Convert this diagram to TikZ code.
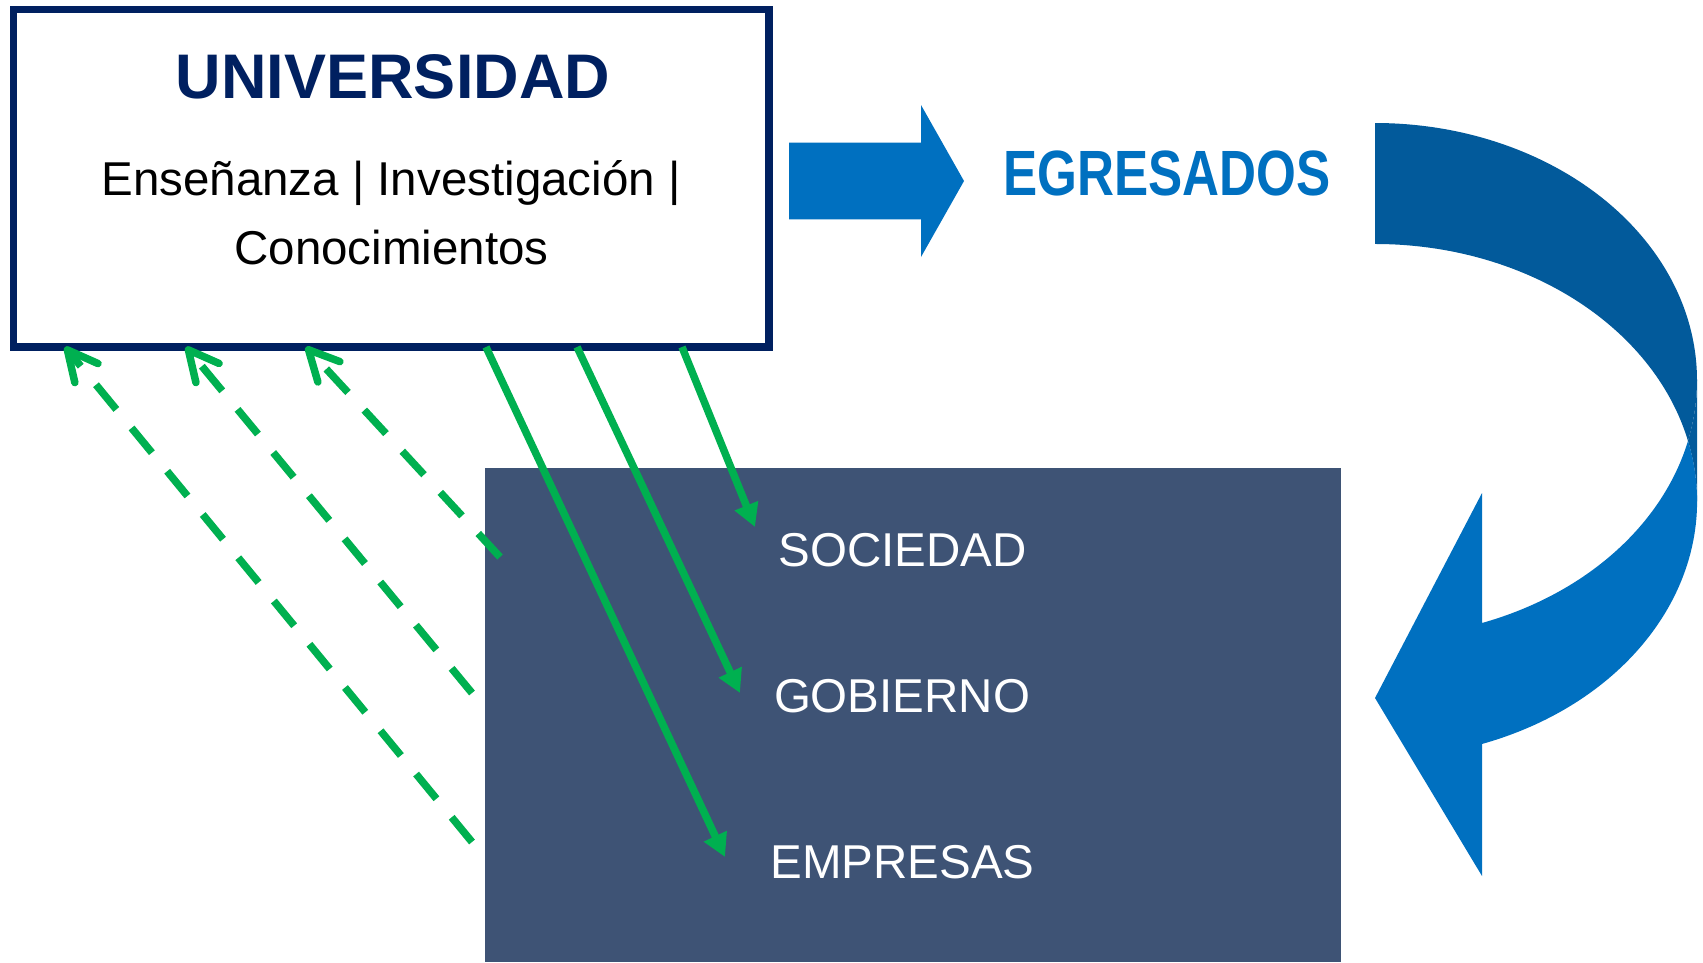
\documentclass[tikz,border=0pt]{standalone}
\usepackage{fontspec}
\setmainfont{Liberation Sans}
\newfontfamily\narrowfont[FakeStretch=0.80]{Liberation Sans}
\usetikzlibrary{positioning}
\usetikzlibrary{arrows.meta}
\usetikzlibrary{math}
\definecolor{univblue}{RGB}{0,32,96}
\definecolor{flechagreen}{RGB}{0,176,80}
\definecolor{egrblue}{RGB}{0,112,192}
\definecolor{backblue}{RGB}{2,90,155}
\definecolor{sectgray}{RGB}{62,83,117}

\begin{document}
\begin{tikzpicture}[x=1pt,y=-1pt,
    salida/.style={flechagreen, line width=7.5pt, -{Triangle[length=23pt,width=24pt]}},
    retorno/.style={flechagreen, line width=7.5pt, dash pattern=on 32pt off 24pt,
      -{Straight Barb[length=30pt,width=30pt,round]}},
    sector/.style={text=white, font=\fontsize{47.5}{57}\selectfont, inner sep=0pt, anchor=base}]
      \tikzmath{
        \arx = 322;
        \ary = 257.3;
        \cut = 13.6;
        \low = 70.6;
      }
      \path[use as bounding box, fill=white] (0,0) rectangle (1703,962);

      % universidad
      \node[draw=univblue, line width=7.5pt, minimum width=755.5pt, minimum height=337.5pt,
        inner sep=0pt, outer sep=0pt] (univ) at (391.25,178.25) {};
      \node[anchor=base, text=univblue, font=\fontsize{63}{76}\selectfont\bfseries, inner sep=0pt]
        (titulo) at (393,98) {UNIVERSIDAD};
      \node[anchor=base, font=\fontsize{47.5}{57}\selectfont, inner sep=0pt]
        (funciones) at (391,195) {Enseñanza | Investigación |};
      \node[anchor=base, font=\fontsize{47.5}{57}\selectfont, inner sep=0pt]
        (conoc) at (391.5,264) {Conocimientos};

      % sectores
      \node[fill=sectgray, minimum width=856pt, minimum height=494pt, inner sep=0pt, outer sep=0pt]
        (sect) at (913,715) {};
      \node[sector] (soc) at (902.5,566) {SOCIEDAD};
      \node[sector] (gob) at (902,712) {GOBIERNO};
      \node[sector] (emp) at (902.5,878) {EMPRESAS};

      % egresados
      \fill[egrblue] (789,142.7) -- (921,142.7) -- (921,105) -- (964,181) -- (921,257)
        -- (921,219.3) -- (789,219.3) -- cycle;
      \node[anchor=base west, text=egrblue, font=\narrowfont\fontsize{64}{77}\selectfont\bfseries,
        inner sep=0pt] (egr) at (1003,195) {EGRESADOS};

      % curved arrow: back band, then front band with head
      \fill[backblue] (1375,123) arc[start angle=-90, end angle=\cut, x radius=\arx, y radius=\ary]
        arc[start angle=-\cut, end angle=-90, x radius=\arx, y radius=\ary] -- cycle;
      \fill[backblue] (1697,380.3) arc[start angle=0, end angle=\cut, x radius=\arx, y radius=\ary]
        arc[start angle=-\cut, end angle=0, x radius=\arx, y radius=\ary] -- cycle;
      \fill[egrblue] (1688,440.8) arc[start angle=-\cut, end angle=\low, x radius=\arx, y radius=\ary]
        -- (1482,876) -- (1375,698) -- (1482,493) -- (1482,623)
        arc[start angle=\low, end angle=\cut, x radius=\arx, y radius=\ary] -- cycle;

      % universidad -> sectores
      \foreach \s/\dx/\dy/\sx in {emp/-177.5/21/472.5, gob/-162/19/563.5, soc/-147.5/39/668.5}
        \draw[salida] ([xshift=\sx pt]univ.south west) -- ([shift={(\dx pt,\dy pt)}]\s.base);

      % sectores -> universidad
      \coordinate (vEmp) at (472,842);
      \coordinate (vGob) at (472,693);
      \coordinate (vSoc) at (500,557);
      \foreach \v/\hx in {vEmp/51.5, vGob/172.5, vSoc/292.5}
        \draw[retorno] (\v) -- ([xshift=\hx pt]univ.south west);

    \end{tikzpicture}
\end{document}
